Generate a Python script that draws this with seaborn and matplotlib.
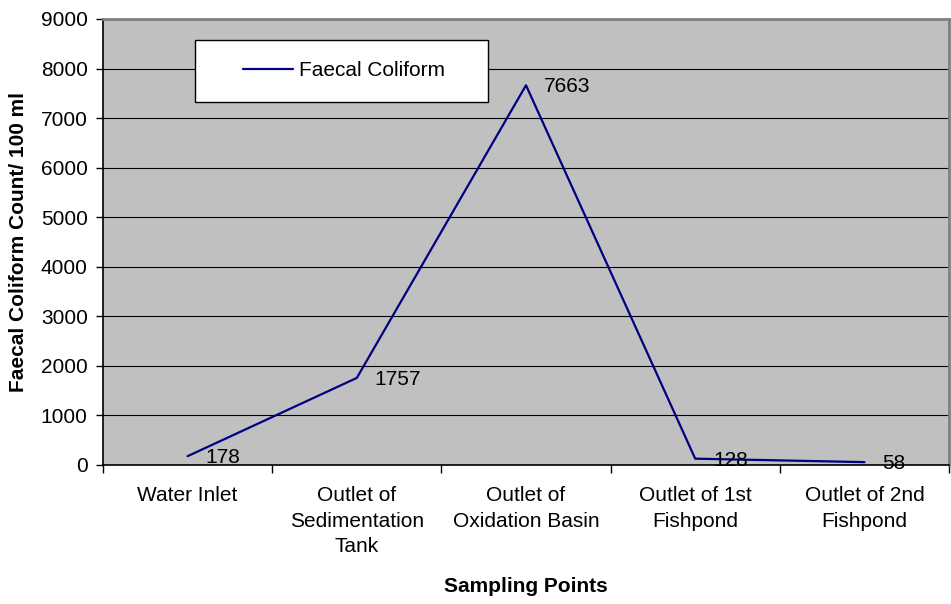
import matplotlib
matplotlib.use("Agg")
import matplotlib.pyplot as plt
from matplotlib.patches import Rectangle
from matplotlib.ticker import FixedLocator, MultipleLocator
import pandas as pd
import seaborn as sns

# Sampling points and faecal coliform counts
sampling_points = [
    "Water Inlet",
    "Outlet of\nSedimentation\nTank",
    "Outlet of\nOxidation Basin",
    "Outlet of 1st\nFishpond",
    "Outlet of 2nd\nFishpond",
]
coliform_counts = [178, 1757, 7663, 128, 58]
series_name = "Faecal Coliform"

df = pd.DataFrame({"point": sampling_points, "count": coliform_counts})

sns.set_theme(style="white")
plt.rcParams["font.family"] = ["Liberation Sans", "DejaVu Sans"]
plt.rcParams["text.color"] = "black"
plt.rcParams["axes.labelcolor"] = "black"
plt.rcParams["xtick.color"] = "black"
plt.rcParams["ytick.color"] = "black"
FS = 15

fig = plt.figure(figsize=(9.51, 6.04), dpi=100)
ax = fig.add_axes([103 / 951, 1 - 465 / 604, 846 / 951, 446 / 604])
ax.set_facecolor("#C0C0C0")

sns.lineplot(data=df, x="point", y="count", ax=ax, color="#000080",
             linewidth=1.6, label=series_name, sort=False)

# data labels to the right of each point
for name, val in zip(sampling_points, coliform_counts):
    ax.annotate(str(val), (name, val), xytext=(13, -1), textcoords="offset points",
                ha="left", va="center", fontsize=FS, color="black")

ax.set_xlim(-0.5, len(sampling_points) - 0.5)
ax.set_ylim(0, 9000)
ax.yaxis.set_major_locator(MultipleLocator(1000))
ax.grid(axis="y", color="black", linewidth=0.8)
ax.set_axisbelow(True)

# category ticks between groups, like Excel
ax.xaxis.set_minor_locator(FixedLocator([i - 0.5 for i in range(len(sampling_points) + 1)]))
ax.tick_params(axis="x", which="major", length=0, pad=15, labelsize=FS)
ax.tick_params(axis="x", which="minor", length=6, width=1, color="black", direction="out")
ax.tick_params(axis="y", which="major", length=5, width=1, color="black", direction="out",
               pad=6, labelsize=FS)
for lbl in ax.get_xticklabels():
    lbl.set_linespacing(1.45)
ax.xaxis.set_tick_params(which="minor", bottom=True)
ax.yaxis.set_tick_params(left=True)

for side in ["left", "bottom"]:
    ax.spines[side].set_color("black")
    ax.spines[side].set_linewidth(1.2)
for side in ["top", "right"]:
    ax.spines[side].set_color("#808080")
    ax.spines[side].set_linewidth(2)

ax.set_xlabel("Sampling Points", fontsize=FS, fontweight="bold", va="center", color="black")
ax.set_ylabel("Faecal Coliform Count/ 100 ml", fontsize=FS, fontweight="bold", va="center",
              color="black")
ax.xaxis.set_label_coords(0.5, -(587 - 465) / 446)
ax.yaxis.set_label_coords(-(103 - 19) / 846, 0.5)

# legend box
ax.add_patch(Rectangle((92 / 846, (465 - 102) / 446), 293 / 846, 62 / 446,
                       transform=ax.transAxes, facecolor="white", edgecolor="black",
                       linewidth=1, zorder=4))
leg = ax.legend(loc="center", bbox_to_anchor=((92 + 149) / 846, (465 - 71) / 446),
                frameon=False, fontsize=FS, handlelength=2.4, handletextpad=0.3)
for t in leg.get_texts():
    t.set_color("black")
leg.set_zorder(5)

fig.savefig("out.png", dpi=100)
